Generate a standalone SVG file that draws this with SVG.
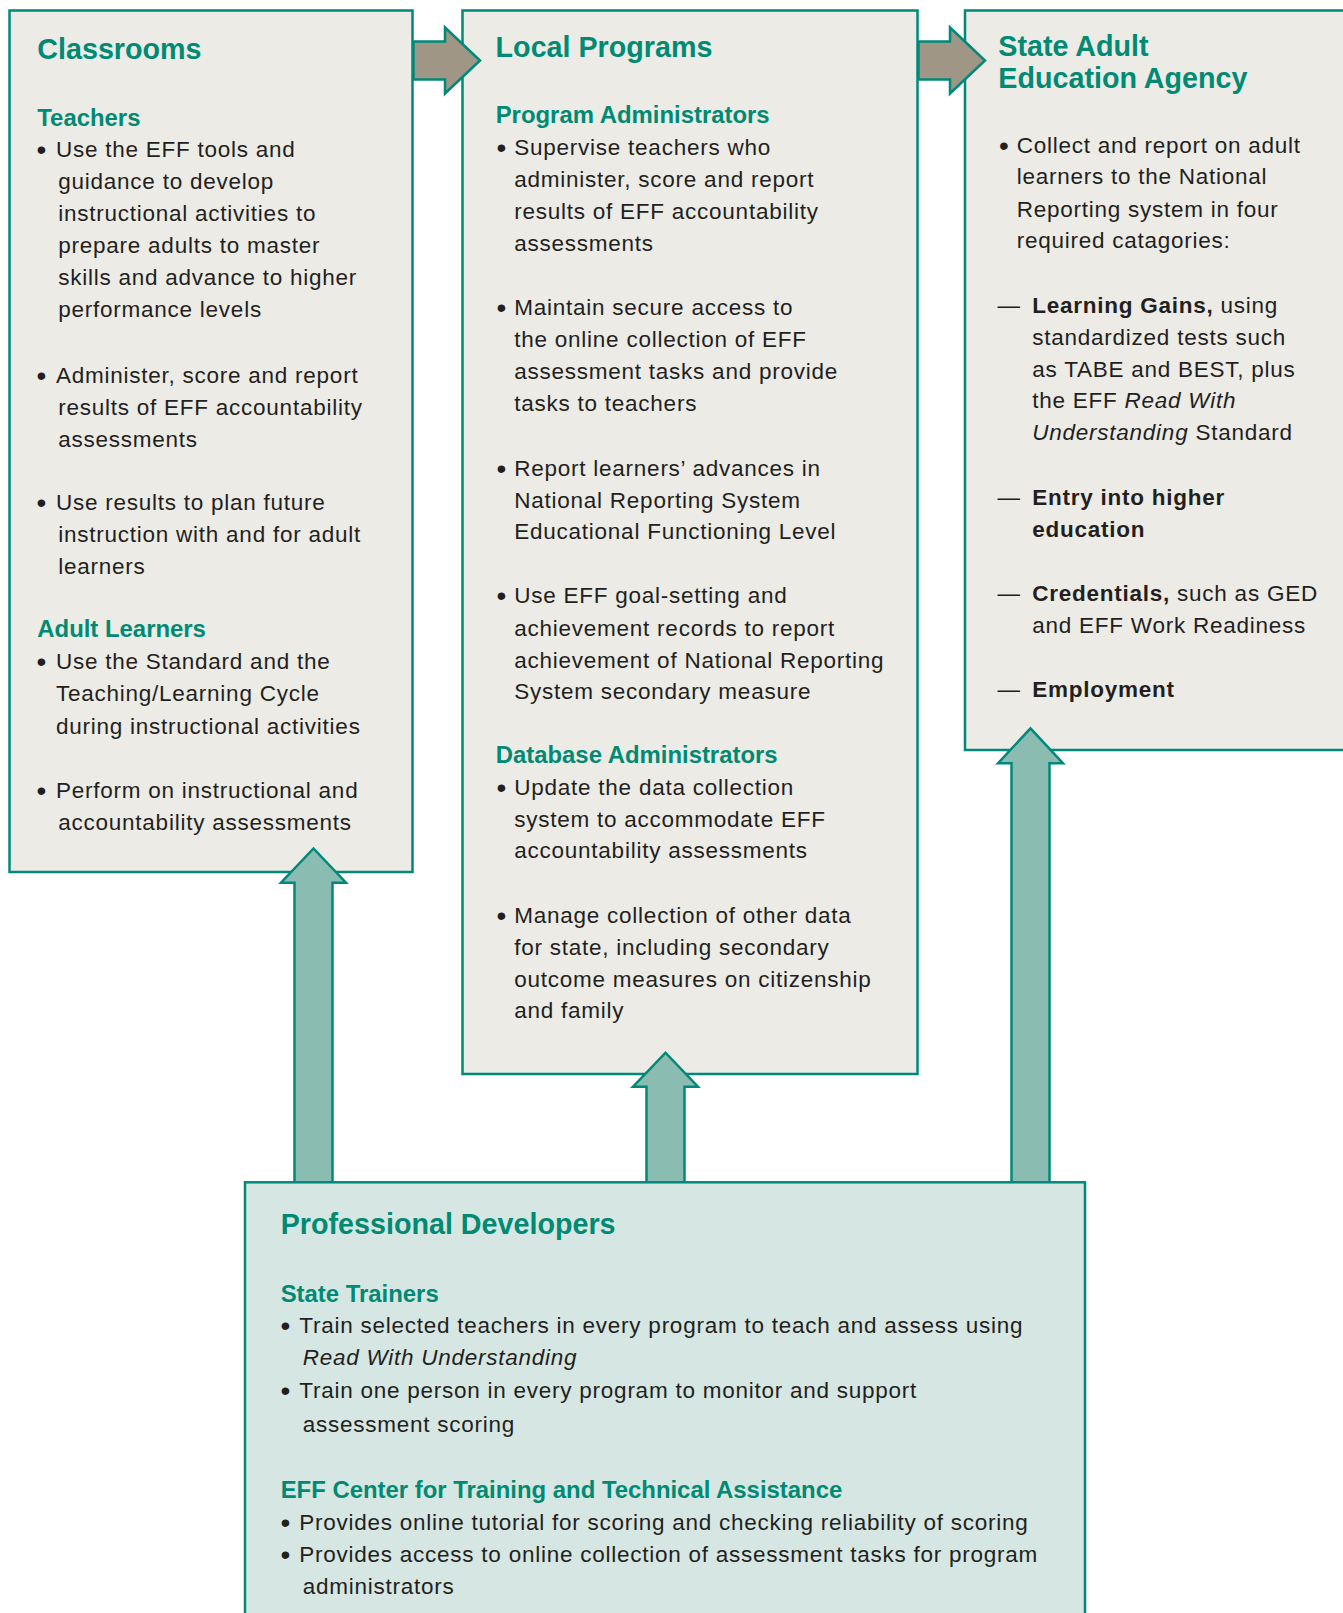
<svg xmlns="http://www.w3.org/2000/svg" width="1343" height="1613" viewBox="0 0 1343 1613">
<style>
.box{fill:#ecebe6;stroke:#00897a;stroke-width:2.5}
.pbox{fill:#d6e6e2;stroke:#00897a;stroke-width:2.5}
.h1{font-family:"Liberation Sans",Arial,sans-serif;font-weight:bold;font-size:28.7px;fill:#008a73}
.h2{font-family:"Liberation Sans",Arial,sans-serif;font-weight:bold;font-size:23.9px;fill:#008a73}
.t{font-family:"Liberation Sans",Arial,sans-serif;font-size:22.5px;letter-spacing:0.75px;fill:#231f20}
.bl{font-family:"Liberation Sans",Arial,sans-serif;font-size:28px;fill:#231f20}
.b{font-weight:bold}
.i{font-style:italic}
.rarrow{fill:#9f9686;stroke:#00897a;stroke-width:2.5;stroke-linejoin:miter}
.uarrow{fill:#8bbcb2;stroke:#00897a;stroke-width:2.5;stroke-linejoin:miter}
</style>
<rect width="1343" height="1613" fill="#ffffff"/>

<g id="classrooms">
<rect class="box" x="9.5" y="10.5" width="403" height="861.5"/>
<text class="h1" x="37.3" y="59.3">Classrooms</text>
<text class="h2" x="37.3" y="126">Teachers</text>
<text class="bl" x="36.5" y="158.7">•</text>
<text class="t" x="56" y="156.7">Use the EFF tools and</text>
<text class="t" x="58.3" y="188.8">guidance to develop</text>
<text class="t" x="58.3" y="220.9">instructional activities to</text>
<text class="t" x="58.3" y="253">prepare adults to master</text>
<text class="t" x="58.3" y="285.1">skills and advance to higher</text>
<text class="t" x="58.3" y="317.2">performance levels</text>
<text class="bl" x="36.5" y="384.5">•</text>
<text class="t" x="56" y="382.5">Administer, score and report</text>
<text class="t" x="58.3" y="414.6">results of EFF accountability</text>
<text class="t" x="58.3" y="446.6">assessments</text>
<text class="bl" x="36.5" y="511.8">•</text>
<text class="t" x="56" y="509.8">Use results to plan future</text>
<text class="t" x="58.3" y="541.8">instruction with and for adult</text>
<text class="t" x="58.3" y="573.8">learners</text>
<text class="h2" x="37.3" y="637.1">Adult Learners</text>
<text class="bl" x="36.5" y="671.3">•</text>
<text class="t" x="56" y="669.3">Use the Standard and the</text>
<text class="t" x="56" y="701.4">Teaching/Learning Cycle</text>
<text class="t" x="56" y="733.6">during instructional activities</text>
<text class="bl" x="36.5" y="799.9">•</text>
<text class="t" x="56" y="797.9">Perform on instructional and</text>
<text class="t" x="58.3" y="829.8">accountability assessments</text>
</g>

<g id="local-programs">
<rect class="box" x="462.5" y="10.5" width="455" height="1063.5"/>
<text class="h1" x="495.6" y="57">Local Programs</text>
<text class="h2" x="495.7" y="123.3">Program Administrators</text>
<text class="bl" x="496.5" y="157">•</text>
<text class="t" x="514.3" y="155">Supervise teachers who</text>
<text class="t" x="514.3" y="187.3">administer, score and report</text>
<text class="t" x="514.3" y="219.3">results of EFF accountability</text>
<text class="t" x="514.3" y="251">assessments</text>
<text class="bl" x="496.5" y="317.3">•</text>
<text class="t" x="514.3" y="315.3">Maintain secure access to</text>
<text class="t" x="514.3" y="347.3">the online collection of EFF</text>
<text class="t" x="514.3" y="379.3">assessment tasks and provide</text>
<text class="t" x="514.3" y="411">tasks to teachers</text>
<text class="bl" x="496.5" y="478">•</text>
<text class="t" x="514.3" y="476">Report learners’ advances in</text>
<text class="t" x="514.3" y="507.7">National Reporting System</text>
<text class="t" x="514.3" y="539.3">Educational Functioning Level</text>
<text class="bl" x="496.5" y="605.3">•</text>
<text class="t" x="514.3" y="603.3">Use EFF goal-setting and</text>
<text class="t" x="514.3" y="635.5">achievement records to report</text>
<text class="t" x="514.3" y="667.7">achievement of National Reporting</text>
<text class="t" x="514.3" y="699.3">System secondary measure</text>
<text class="h2" x="495.7" y="762.7">Database Administrators</text>
<text class="bl" x="496.5" y="797">•</text>
<text class="t" x="514.3" y="795">Update the data collection</text>
<text class="t" x="514.3" y="826.7">system to accommodate EFF</text>
<text class="t" x="514.3" y="858.3">accountability assessments</text>
<text class="bl" x="496.5" y="924.7">•</text>
<text class="t" x="514.3" y="922.7">Manage collection of other data</text>
<text class="t" x="514.3" y="955">for state, including secondary</text>
<text class="t" x="514.3" y="986.7">outcome measures on citizenship</text>
<text class="t" x="514.3" y="1018.3">and family</text>
</g>

<g id="state-agency">
<rect class="box" x="965" y="10.5" width="390" height="739.5"/>
<text class="h1" x="998.3" y="56">State Adult</text>
<text class="h1" x="998.3" y="88.3">Education Agency</text>
<text class="bl" x="999" y="154.7">•</text>
<text class="t" x="1016.7" y="152.7">Collect and report on adult</text>
<text class="t" x="1016.7" y="184.3">learners to the National</text>
<text class="t" x="1016.7" y="216.7">Reporting system in four</text>
<text class="t" x="1016.7" y="248.3">required catagories:</text>
<text class="t" x="997.5" y="312.7">—</text>
<text class="t" x="1032.3" y="312.7"><tspan class="b">Learning Gains,</tspan> using</text>
<text class="t" x="1032.3" y="345">standardized tests such</text>
<text class="t" x="1032.3" y="376.7">as TABE and BEST, plus</text>
<text class="t" x="1032.3" y="408.3">the EFF <tspan class="i">Read With</tspan></text>
<text class="t" x="1032.3" y="440"><tspan class="i">Understanding</tspan> Standard</text>
<text class="t" x="997.5" y="505">—</text>
<text class="t b" x="1032.3" y="505">Entry into higher</text>
<text class="t b" x="1032.3" y="536.7">education</text>
<text class="t" x="997.5" y="601">—</text>
<text class="t" x="1032.3" y="601"><tspan class="b">Credentials,</tspan> such as GED</text>
<text class="t" x="1032.3" y="632.7">and EFF Work Readiness</text>
<text class="t" x="997.5" y="696.7">—</text>
<text class="t b" x="1032.3" y="696.7">Employment</text>
</g>

<g id="connectors">
<path class="rarrow" d="M413.5 41.5 L445 41.5 L445 27.5 L480 60.5 L445 93.5 L445 79.5 L413.5 79.5 Z"/>
<path class="rarrow" d="M918.5 41.5 L950 41.5 L950 27.5 L985 60.5 L950 93.5 L950 79.5 L918.5 79.5 Z"/>
<path class="uarrow" d="M294.5 1190 L294.5 882.7 L281 882.7 L313.5 848.5 L346 882.7 L332.5 882.7 L332.5 1190 Z"/>
<path class="uarrow" d="M646.5 1190 L646.5 1086.7 L633 1086.7 L665.5 1052.7 L698 1086.7 L684.5 1086.7 L684.5 1190 Z"/>
<path class="uarrow" d="M1011.5 1190 L1011.5 763.3 L998 763.3 L1030.5 728.3 L1063 763.3 L1049.5 763.3 L1049.5 1190 Z"/>
</g>

<g id="professional-developers">
<rect class="pbox" x="245" y="1182.3" width="840" height="450"/>
<text class="h1" x="280.7" y="1234.3">Professional Developers</text>
<text class="h2" x="280.7" y="1301.7">State Trainers</text>
<text class="bl" x="280.5" y="1335.3">•</text>
<text class="t" x="299.3" y="1333.3">Train selected teachers in every program to teach and assess using</text>
<text class="t i" x="302.7" y="1365">Read With Understanding</text>
<text class="bl" x="280.5" y="1399.7">•</text>
<text class="t" x="299.3" y="1397.7">Train one person in every program to monitor and support</text>
<text class="t" x="302.7" y="1432.3">assessment scoring</text>
<text class="h2" x="280.7" y="1498.3">EFF Center for Training and Technical Assistance</text>
<text class="bl" x="280.5" y="1532">•</text>
<text class="t" x="299.3" y="1530">Provides online tutorial for scoring and checking reliability of scoring</text>
<text class="bl" x="280.5" y="1564.3">•</text>
<text class="t" x="299.3" y="1562.3">Provides access to online collection of assessment tasks for program</text>
<text class="t" x="302.7" y="1594.3">administrators</text>
</g>
</svg>
